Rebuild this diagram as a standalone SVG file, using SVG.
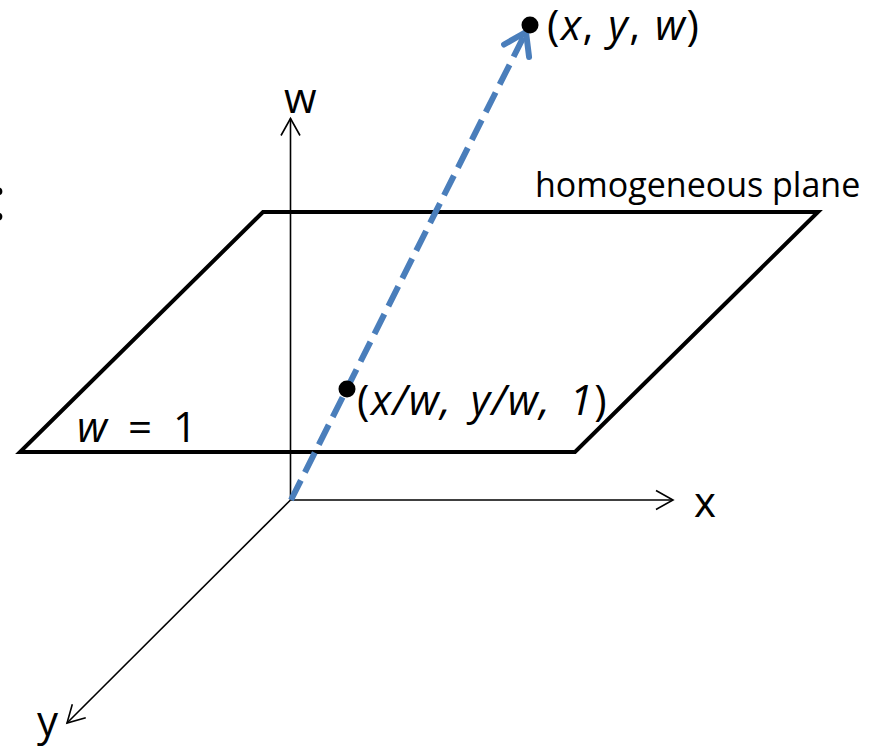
<svg xmlns="http://www.w3.org/2000/svg" width="884" height="751" viewBox="0 0 884 751">
<style>
  text { font-family: "Open Sans", "Noto Sans", "DejaVu Sans", sans-serif; fill: #000; }
  .it { font-style: italic; }
  .coord { font-size: 42px; letter-spacing: 1.5px; }
  .axis { stroke: #000; stroke-width: 1.6; fill: none; }
  .plane { stroke: #000; stroke-width: 4; fill: none; stroke-linejoin: miter; }
  .ray { stroke: #4A7EBB; stroke-width: 6; fill: none; stroke-dasharray: 22 9; }
  .pt { fill: #000; }
</style>
<defs>
  <marker id="openArrow" markerUnits="userSpaceOnUse" markerWidth="40" markerHeight="40" viewBox="-20 -20 40 40" refX="0" refY="0" orient="auto" overflow="visible">
    <path d="M-17,-9.5 L0,0 L-17,9.5" fill="none" stroke="#000" stroke-width="1.6"/>
  </marker>
  <marker id="blueArrow" markerUnits="userSpaceOnUse" markerWidth="60" markerHeight="60" viewBox="-30 -30 60 60" refX="0" refY="0" orient="auto" overflow="visible">
    <path d="M-21,-14 L0,0 L-21,14" fill="none" stroke="#4A7EBB" stroke-width="6" stroke-linecap="round" stroke-linejoin="round" stroke-dasharray="none"/>
  </marker>
</defs>

<text x="-9" y="220" font-size="60">:</text>

<g id="plane">
  <polygon class="plane" points="263,212 818,212 575,452 20,452"/>
  <text x="535" y="197" font-size="34">homogeneous plane</text>
  <text x="77" y="442" font-size="42" word-spacing="10"><tspan class="it">w</tspan> = 1</text>
</g>

<g id="connectors">
  <line id="w-axis" class="axis" x1="290.5" y1="500" x2="290.5" y2="118.5" marker-end="url(#openArrow)"/>
  <line id="x-axis" class="axis" x1="290.5" y1="500" x2="673" y2="500" marker-end="url(#openArrow)"/>
  <line id="y-axis" class="axis" x1="290.5" y1="500" x2="67" y2="723" marker-end="url(#openArrow)"/>
  <line id="ray" class="ray" x1="291" y1="500" x2="526" y2="32" marker-end="url(#blueArrow)"/>
</g>

<g id="axis-labels">
  <text x="284" y="113" font-size="42">w</text>
  <text x="694" y="517" font-size="42">x</text>
  <text x="37" y="736" font-size="42">y</text>
</g>

<g id="point-xyw">
  <circle class="pt" cx="530" cy="25" r="8.5"/>
  <text class="coord" x="547" y="40" word-spacing="1">(<tspan class="it">x</tspan>, <tspan class="it">y</tspan>, <tspan class="it">w</tspan>)</text>
</g>

<g id="point-projected">
  <circle class="pt" cx="347" cy="389" r="8.5"/>
  <text class="coord" x="357" y="415" word-spacing="6">(<tspan class="it">x/w, y/w, 1</tspan>)</text>
</g>
</svg>
